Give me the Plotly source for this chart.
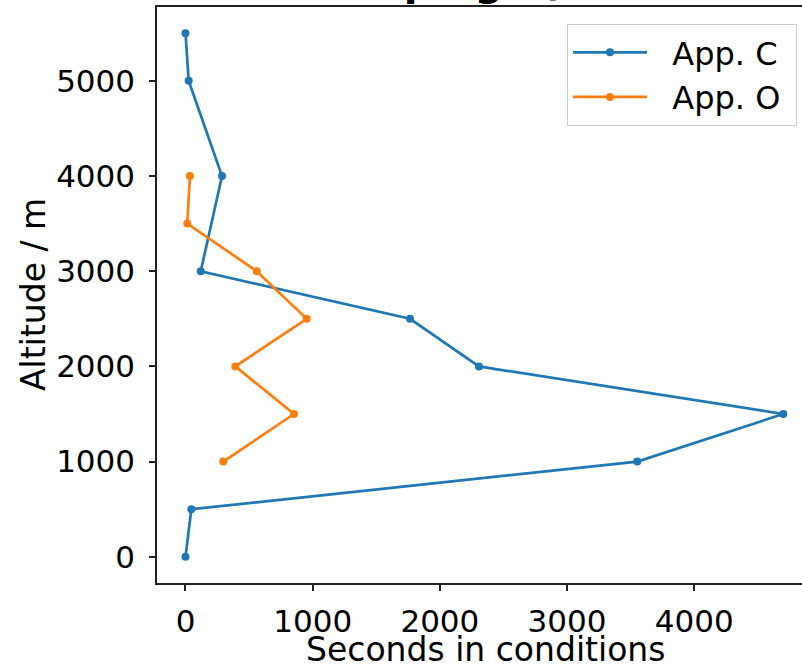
import plotly.graph_objects as go

# Altitude bands (m) and seconds spent in conditions for each approach
alt_c = [0, 500, 1000, 1500, 2000, 2500, 3000, 4000, 5000, 5500]
sec_c = [0, 46, 3552, 4700, 2307, 1765, 120, 287, 25, 0]

alt_o = [1000, 1500, 2000, 2500, 3000, 3500, 4000]
sec_o = [297, 853, 392, 953, 560, 14, 35]

x_ticks = [0, 1000, 2000, 3000, 4000]
y_ticks = [0, 1000, 2000, 3000, 4000, 5000]

BLUE = "#1f77b4"
ORANGE = "#ff7f0e"
FONT = "DejaVu Sans"
NB = "\u00a0"

W, H = 802, 665
L, T, B, R = 157, 7, 82, 0

fig = go.Figure()
fig.add_trace(go.Scatter(
    x=sec_c, y=alt_c, mode="lines+markers", name=NB * 2 + "App. C" + NB,
    legendgroup="c",
    line=dict(color=BLUE, width=2.7), marker=dict(color=BLUE, size=8),
))
fig.add_trace(go.Scatter(
    x=sec_o, y=alt_o, mode="lines+markers", name=NB * 2 + "App. O" + NB,
    legendgroup="o",
    line=dict(color=ORANGE, width=2.7), marker=dict(color=ORANGE, size=8),
))

pw = W - L - R
ph = H - T - B

fig.update_layout(
    width=W, height=H,
    margin=dict(l=L, r=R, t=T, b=B, pad=0),
    paper_bgcolor="white", plot_bgcolor="white",
    font=dict(family=FONT, size=31, color="black"),
    showlegend=True,
    legend=dict(
        x=(797 - L) / pw, y=(H - B - 24) / ph, xanchor="right", yanchor="top",
        bgcolor="rgba(255,255,255,0.8)", bordercolor="#cccccc", borderwidth=1,
        font=dict(family=FONT, size=32, color="black"),
        itemwidth=74, tracegroupgap=0,
    ),
    xaxis=dict(
        range=[-224, 4847], tickvals=x_ticks, ticktext=[str(v) for v in x_ticks],
        showgrid=False, zeroline=False, showline=True, mirror=True,
        linecolor="#222222", linewidth=1.5,
        ticks="outside", ticklen=6, tickwidth=1.5, tickcolor="#222222",
        tickfont=dict(family=FONT, size=31, color="black"),
        ticklabelstandoff=4,
    ),
    yaxis=dict(
        range=[-275, 5775], tickvals=y_ticks, ticktext=[str(v) for v in y_ticks],
        showgrid=False, zeroline=False, showline=True, mirror=False,
        linecolor="#222222", linewidth=1.5,
        ticks="outside", ticklen=6, tickwidth=1.5, tickcolor="#222222",
        tickfont=dict(family=FONT, size=31, color="black"),
        ticklabelstandoff=8,
    ),
)

# Axis titles
fig.add_annotation(
    text="Seconds in conditions", xref="paper", yref="paper",
    x=(485 - L) / pw, y=0, yanchor="bottom", xanchor="center", yshift=-87,
    borderpad=0, showarrow=False, font=dict(family=FONT, size=33, color="black"),
)
fig.add_annotation(
    text="Altitude / m", xref="paper", yref="paper",
    x=0, y=0.5, xanchor="center", yanchor="middle", xshift=-124,
    textangle=-90, showarrow=False,
    font=dict(family=FONT, size=33, color="black"),
)

# Chart title, sitting above the top of the canvas
fig.add_annotation(
    text="<b>Ice pings (all recorded sectors)</b>", xref="paper", yref="paper",
    x=(322 - L) / pw, y=1, xanchor="left", yanchor="bottom", yshift=1,
    showarrow=False, font=dict(family=FONT, size=40, color="black"),
)

fig.write_html("out.html")
